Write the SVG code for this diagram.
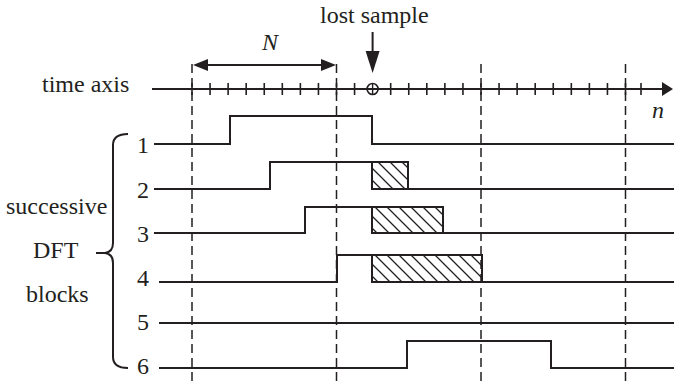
<svg xmlns="http://www.w3.org/2000/svg" width="674" height="381" viewBox="0 0 674 381">
<style>
.sig{fill:none;stroke:#231f20;stroke-width:2}
.dash{fill:none;stroke:#231f20;stroke-width:1.5;stroke-dasharray:9,5}
.tick{stroke:#231f20;stroke-width:1.6}
.hatch{fill:url(#hp);stroke:#231f20;stroke-width:2}
</style>
<defs>
<pattern id="hp" patternUnits="userSpaceOnUse" width="12" height="12">
<path d="M0,0L12,12M-6,6L6,18M6,-6L18,6" stroke="#231f20" stroke-width="1.3"/>
</pattern>
</defs>
<g id="labels" fill="#231f20" font-size="24">
<text font-family="Liberation Serif, serif" x="42" y="92">time axis</text>
<text font-family="Liberation Serif, serif" x="320" y="23">lost sample</text>
<text font-family="Liberation Serif, serif" font-style="italic" x="262" y="50">N</text>
<text font-family="Liberation Serif, serif" font-style="italic" x="652" y="118">n</text>
<text font-family="Liberation Serif, serif" x="6" y="214">successive</text>
<text font-family="Liberation Serif, serif" x="33" y="258">DFT</text>
<text font-family="Liberation Serif, serif" x="26" y="302">blocks</text>
</g>
<g id="grid">
<line class="dash" x1="192" y1="64" x2="192" y2="381"/>
<line class="dash" x1="336.5" y1="64" x2="336.5" y2="381"/>
<line class="dash" x1="481" y1="64" x2="481" y2="381"/>
<line class="dash" x1="625.5" y1="64" x2="625.5" y2="381"/>
</g>
<g id="time-axis">
<line x1="152" y1="89" x2="664" y2="89" stroke="#231f20" stroke-width="2"/>
<path d="M662,82L673,89L662,96z" fill="#231f20"/>
<g class="tick">
<line x1="192" y1="83" x2="192" y2="95"/><line x1="210.06" y1="83" x2="210.06" y2="95"/><line x1="228.12" y1="83" x2="228.12" y2="95"/><line x1="246.19" y1="83" x2="246.19" y2="95"/><line x1="264.25" y1="83" x2="264.25" y2="95"/><line x1="282.31" y1="83" x2="282.31" y2="95"/><line x1="300.37" y1="83" x2="300.37" y2="95"/><line x1="318.44" y1="83" x2="318.44" y2="95"/><line x1="336.5" y1="83" x2="336.5" y2="95"/><line x1="354.56" y1="83" x2="354.56" y2="95"/>
<line x1="390.69" y1="83" x2="390.69" y2="95"/><line x1="408.75" y1="83" x2="408.75" y2="95"/><line x1="426.81" y1="83" x2="426.81" y2="95"/><line x1="444.87" y1="83" x2="444.87" y2="95"/><line x1="462.94" y1="83" x2="462.94" y2="95"/><line x1="481" y1="83" x2="481" y2="95"/><line x1="499.06" y1="83" x2="499.06" y2="95"/><line x1="517.12" y1="83" x2="517.12" y2="95"/><line x1="535.19" y1="83" x2="535.19" y2="95"/><line x1="553.25" y1="83" x2="553.25" y2="95"/><line x1="571.31" y1="83" x2="571.31" y2="95"/><line x1="589.37" y1="83" x2="589.37" y2="95"/><line x1="607.44" y1="83" x2="607.44" y2="95"/><line x1="625.5" y1="83" x2="625.5" y2="95"/><line x1="641" y1="83" x2="641" y2="95"/>
</g>
<circle cx="372.6" cy="89" r="5.5" fill="none" stroke="#231f20" stroke-width="1.6"/>
<line x1="372.6" y1="83.5" x2="372.6" y2="94.5" stroke="#231f20" stroke-width="1.4"/>
</g>
<g id="connectors">
<line x1="372.6" y1="32" x2="372.6" y2="52" stroke="#231f20" stroke-width="2"/>
<path d="M365.6,51L379.6,51L372.6,73z" fill="#231f20"/>
<line x1="207" y1="65" x2="322" y2="65" stroke="#231f20" stroke-width="2"/>
<path d="M193,65L208,59L208,71z" fill="#231f20"/>
<path d="M336,65L321,59L321,71z" fill="#231f20"/>
</g>
<g id="brace">
<path class="sig" d="M128,134Q113,134 113,145V243Q113,252 105,253Q113,254 113,263V357Q113,368 128,368"/>
<line x1="96" y1="253" x2="106" y2="253" stroke="#231f20" stroke-width="2"/>
</g>
<g id="block1">
<text font-family="Liberation Serif, serif" font-size="24" fill="#231f20" x="137" y="153">1</text>
<path class="sig" d="M154,144H230V116H372V144H674"/>
</g>
<g id="block2">
<text font-family="Liberation Serif, serif" font-size="24" fill="#231f20" x="137" y="198">2</text>
<path class="sig" d="M154,189H270V162H408"/>
<rect class="hatch" x="372" y="162" width="36" height="27"/>
<path class="sig" d="M372,189H674"/>
</g>
<g id="block3">
<text font-family="Liberation Serif, serif" font-size="24" fill="#231f20" x="137" y="242">3</text>
<path class="sig" d="M154,233H305V207H443"/>
<rect class="hatch" x="372" y="207" width="71" height="26"/>
<path class="sig" d="M372,233H674"/>
</g>
<g id="block4">
<text font-family="Liberation Serif, serif" font-size="24" fill="#231f20" x="137" y="286">4</text>
<path class="sig" d="M159,282H337V255H482"/>
<rect class="hatch" x="372" y="255" width="110" height="27"/>
<path class="sig" d="M372,282H674"/>
</g>
<g id="block5">
<text font-family="Liberation Serif, serif" font-size="24" fill="#231f20" x="137" y="330">5</text>
<path class="sig" d="M159,323H674"/>
</g>
<g id="block6">
<text font-family="Liberation Serif, serif" font-size="24" fill="#231f20" x="137" y="374">6</text>
<path class="sig" d="M159,368H407V341H551V368H674"/>
</g>
</svg>
